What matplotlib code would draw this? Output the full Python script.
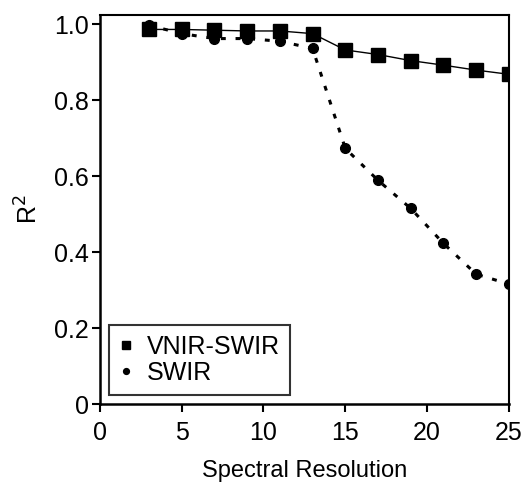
import matplotlib
matplotlib.use("Agg")
import matplotlib.pyplot as plt

plt.rcParams['font.family'] = ['Liberation Sans', 'DejaVu Sans']

# data
resolution = [3, 5, 7, 9, 11, 13, 15, 17, 19, 21, 23, 25]
vnir_swir = [0.986, 0.986, 0.984, 0.982, 0.982, 0.975, 0.932, 0.920, 0.904, 0.892, 0.879, 0.868]
swir = [0.997, 0.975, 0.962, 0.962, 0.955, 0.936, 0.673, 0.589, 0.515, 0.423, 0.342, 0.316]

xticks = [0, 5, 10, 15, 20, 25]
yticks = [0, 0.2, 0.4, 0.6, 0.8, 1.0]
ylabels = ["0", "0.2", "0.4", "0.6", "0.8", "1.0"]

fig = plt.figure(figsize=(5.23, 4.84), dpi=100)
ax = fig.add_axes([0.191, 0.165, 0.782, 0.804])

ax.plot(resolution, vnir_swir, color="black", lw=1.0, marker="s", ms=9.5,
        label="VNIR-SWIR")
ax.plot(resolution, swir, color="black", lw=2.2, ls=(0, (1.6, 3.2)),
        marker="o", ms=7, label="SWIR")

ax.set_xlim(0, 25)
ax.set_ylim(0, 1.024)
ax.set_xticks(xticks)
ax.set_yticks(yticks)
ax.set_yticklabels(ylabels)
ax.tick_params(direction="out", length=6, width=1.5, labelsize=18, pad=2)
ax.tick_params(axis="x", pad=6)

for s in ax.spines.values():
    s.set_linewidth(1.8)
ax.spines["right"].set_linewidth(1.5)
ax.spines["top"].set_linewidth(1.5)

ax.set_xlabel("Spectral Resolution", fontsize=17, labelpad=11)
ax.set_ylabel("R$^2$", fontsize=18, labelpad=8)

leg = ax.legend(loc="lower left", fontsize=18, frameon=True, fancybox=False,
                edgecolor="black", markerscale=0.6, handlelength=0.6,
                handletextpad=0.5, borderpad=0.4, labelspacing=0.1,
                borderaxespad=0, bbox_to_anchor=(0.022, 0.023))
leg.get_frame().set_linewidth(1.5)
for h in leg.get_lines():
    h.set_linestyle("none")

fig.savefig("out.png", dpi=100)
